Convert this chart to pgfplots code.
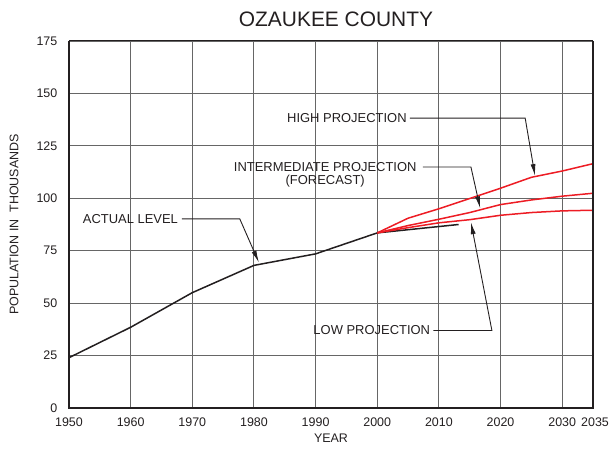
\documentclass[border=0pt]{standalone}
\usepackage{fontspec}
\setmainfont{Liberation Sans}
\usepackage{pgfplots}
\pgfplotsset{compat=1.18}
\usetikzlibrary{arrows.meta}
\definecolor{projred}{RGB}{237,28,36}
\definecolor{ink}{RGB}{35,31,32}
\begin{document}
\begin{tikzpicture}
\begin{axis}[
  scale only axis, width=524bp, height=367bp,
  xmin=1950, xmax=2035, ymin=0, ymax=175,
  xtick={1950,1960,1970,1980,1990,2000,2010,2020,2030},
  extra x ticks={2035},
  extra x tick style={grid=none, xticklabel style={xshift=2bp}},
  ytick={0,25,50,75,100,125,150,175},
  grid=major, major grid style={black!60, line width=0.9bp},
  major tick length=0pt,
  axis line style={draw=none},
  tick label style={font=\fontsize{12.5}{12.5}\selectfont, text=ink, inner sep=0pt},
  yticklabel style={anchor=east, xshift=-11.5bp},
  xticklabel style={anchor=north, yshift=-10bp},
  /pgf/number format/assume math mode=true,
  /pgf/number format/1000 sep={},
  clip=false,
]
\addplot[ink, line width=1.5bp] coordinates {
 (1950,24) (1960,38.5) (1970,55) (1980,68) (1990,73.5) (2000,83.5) (2013.2,87.5)};
\addplot[projred, line width=1.5bp] coordinates {
 (2000,83.5) (2005,90.5) (2010,95) (2020,104.8) (2025,110) (2030,113) (2035,116.5)};
\addplot[projred, line width=1.5bp] coordinates {
 (2000,83.5) (2005,87) (2010,90) (2015,93.2) (2020,97) (2025,99.2) (2030,101) (2035,102.4)};
\addplot[projred, line width=1.5bp] coordinates {
 (2000,83.5) (2005,86) (2010,88.3) (2015,89.8) (2020,91.9) (2025,93.2) (2030,94) (2035,94.3)};

\draw[ink, line width=2.2bp] (rel axis cs:0,1) -- (rel axis cs:0,0) -- (rel axis cs:1,0) -- (rel axis cs:1,1);
\draw[ink, line width=1bp] (rel axis cs:0,1) -- (rel axis cs:1,1);

\coordinate (bl) at (rel axis cs:0,0);
\coordinate (tr) at (rel axis cs:1,1);

\begin{scope}[every node/.style={font=\fontsize{13}{13}\selectfont, text=ink, inner sep=0pt},
  arr/.style={ink, line width=0.9bp, -{Latex[length=12bp,width=5bp]}}]
\node[anchor=east] at (axis cs:2004.8,138.2) {HIGH PROJECTION};
\draw[arr] (axis cs:2005.3,138.2) -- (axis cs:2024.0,138.2) -- (axis cs:2025.6,110.6);
\node[anchor=east] (intl) at (axis cs:2006.4,114.9) {INTERMEDIATE PROJECTION};
\node[anchor=north] at ([yshift=-3.5bp]intl.south) {(FORECAST)};
\draw[arr] (axis cs:2007.4,114.9) -- (axis cs:2015.2,114.9) -- (axis cs:2016.7,95.2);
\node[anchor=east] at (axis cs:1967.7,90.2) {ACTUAL LEVEL};
\draw[arr] (axis cs:1968.3,90.2) -- (axis cs:1977.7,90.2) -- (axis cs:1980.8,69.4);
\node[anchor=east] at (axis cs:2008.6,36.96) {LOW PROJECTION};
\draw[arr] (axis cs:2009.1,36.96) -- (axis cs:2018.6,36.96) -- (axis cs:2015.2,88.6);
\end{scope}

\node[font=\fontsize{21}{21}\selectfont, text=ink, inner sep=0pt] at ([xshift=5bp,yshift=21.5bp]axis description cs:0.5,1) {OZAUKEE COUNTY};
\node[font=\fontsize{12.5}{12.5}\selectfont, text=ink, inner sep=0pt] at ([yshift=-30bp]axis description cs:0.5,0) {YEAR};
\node[font=\fontsize{12.5}{12.5}\selectfont, text=ink, inner sep=0pt, rotate=90] at ([xshift=-55bp]axis description cs:0,0.5) {POPULATION IN\ \ THOUSANDS};
\end{axis}
\pgfresetboundingbox
\path ([shift={(-69bp,-41bp)}]bl) rectangle ([shift={(23bp,41bp)}]tr);
\end{tikzpicture}
\end{document}
